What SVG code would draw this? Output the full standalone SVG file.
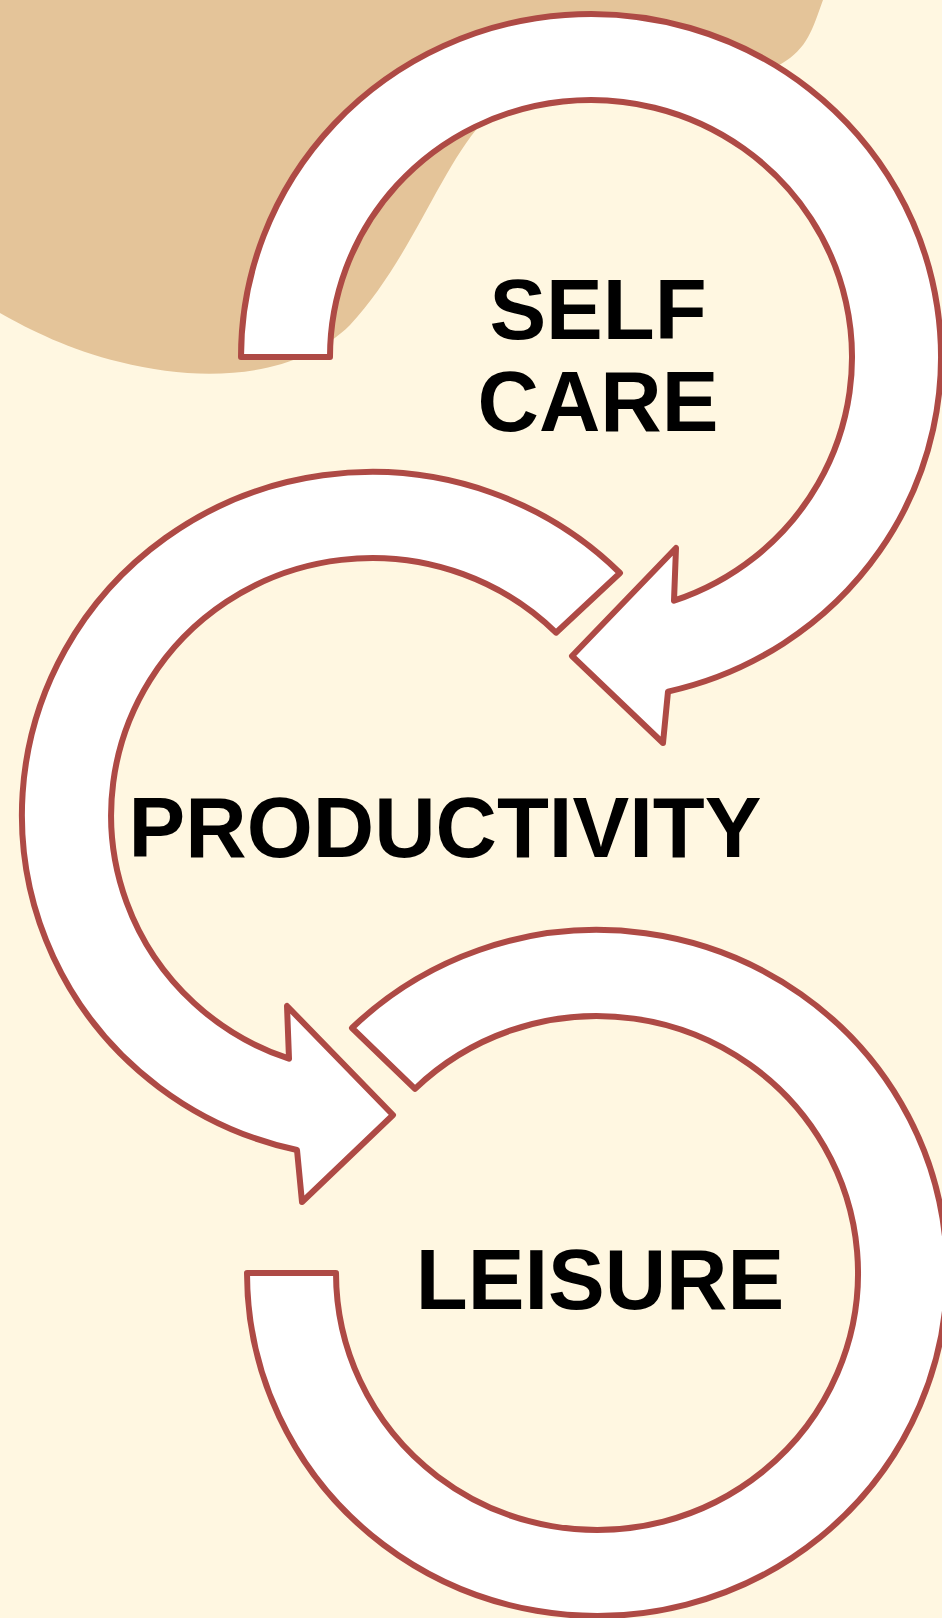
<svg xmlns="http://www.w3.org/2000/svg" width="942" height="1618" viewBox="0 0 942 1618">
  <style>
    .ring { fill: #FFFFFF; stroke: #AE4A45; stroke-width: 6; stroke-linejoin: round; }
    .label { font-family: "Liberation Sans", Arial, sans-serif; font-weight: bold; font-size: 85px; fill: #000000; text-anchor: middle; }
  </style>

  <!-- page background -->
  <rect x="0" y="0" width="942" height="1618" fill="#FFF7E1"/>

  <!-- soft tan backdrop shape in the top-left corner -->
  <path fill="#E4C499" d="M0,0 L823,0 C812,30 808,48 781,64 C720,95 560,70 481,124 C440,170 410,260 350,325 C300,375 210,385 120,362 C70,350 30,330 0,313 Z"/>

  <!-- stage 1: self care, curved arrow pointing down-left -->
  <g id="self-care">
    <path class="ring" d="M241,357 A350,343 0 1 1 668,691.6 L663,743 L572,656 L676,548 L674,600.7 A261,257 0 1 0 330,357 Z"/>
    <text class="label" x="598" y="339">SELF</text>
    <text class="label" x="598" y="431">CARE</text>
  </g>

  <!-- stage 2: productivity, curved arrow pointing right -->
  <g id="productivity">
    <path class="ring" d="M620,573 A350,343 0 1 0 297,1150 L302,1202 L393,1115 L287,1006 L289,1058.7 A261,257 0 1 1 556,632.7 Z"/>
    <text class="label" x="445" y="857">PRODUCTIVITY</text>
  </g>

  <!-- stage 3: leisure, open ring -->
  <g id="leisure">
    <path class="ring" d="M352,1028 A350,343 0 1 1 247,1273 L336,1273 A261,257 0 1 0 415,1088.8 Z"/>
    <text class="label" x="600" y="1309">LEISURE</text>
  </g>

  <g id="connectors"/>
</svg>
